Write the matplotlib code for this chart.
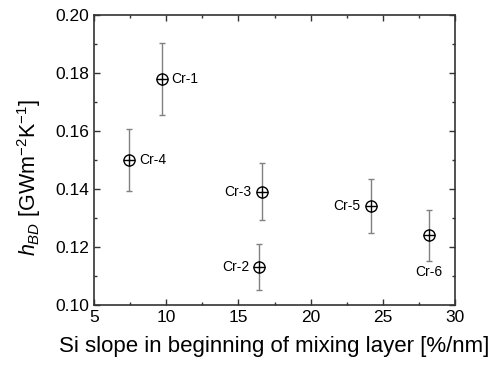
import matplotlib
matplotlib.use("Agg")
import matplotlib.pyplot as plt
from matplotlib.ticker import MultipleLocator

plt.rcParams['font.family'] = ['Liberation Sans', 'DejaVu Sans']
plt.rcParams['mathtext.fontset'] = 'custom'
plt.rcParams['mathtext.rm'] = 'Liberation Sans'
plt.rcParams['mathtext.it'] = 'Liberation Sans:italic'

names = ['Cr-1', 'Cr-2', 'Cr-3', 'Cr-4', 'Cr-5', 'Cr-6']
x = [9.7, 16.45, 16.6, 7.45, 24.15, 28.2]
y = [0.178, 0.113, 0.139, 0.150, 0.134, 0.124]
err = [0.0125, 0.008, 0.0098, 0.0106, 0.0093, 0.0087]
label_pos = ['right', 'left', 'left', 'right', 'left', 'below']

fig = plt.figure(figsize=(4.99, 3.66), dpi=100)
ax = fig.add_axes([94/499, 1-305/366, (455-94)/499, (305-15)/366])

ax.errorbar(x, y, yerr=err, fmt='none', ecolor='#808080', elinewidth=1.0,
            capsize=2.5, capthick=1.0, zorder=2)
ax.plot(x, y, linestyle='none', marker='o', markersize=8, markerfacecolor='white',
        markeredgecolor='black', markeredgewidth=1.0, zorder=3)
ax.plot(x, y, linestyle='none', marker='+', markersize=8, markeredgecolor='black',
        markeredgewidth=1.0, zorder=4)

for n, xi, yi, p in zip(names, x, y, label_pos):
    if p == 'right':
        ax.annotate(n, (xi, yi), xytext=(7, 0), textcoords='offset points',
                    ha='left', va='center', fontsize=10)
    elif p == 'left':
        ax.annotate(n, (xi, yi), xytext=(-7, 0), textcoords='offset points',
                    ha='right', va='center', fontsize=10)
    else:
        ax.annotate(n, (xi, yi), xytext=(0, -26), textcoords='offset points',
                    ha='center', va='center', fontsize=10)

ax.set_xlim(5, 30)
ax.set_ylim(0.10, 0.20)
ax.xaxis.set_major_locator(MultipleLocator(5))
ax.xaxis.set_minor_locator(MultipleLocator(2.5))
ax.yaxis.set_major_locator(MultipleLocator(0.02))
ax.yaxis.set_minor_locator(MultipleLocator(0.01))
ax.yaxis.set_major_formatter(plt.FormatStrFormatter('%.2f'))
ax.tick_params(which='both', direction='in', top=True, right=True, labelsize=12.5)
ax.tick_params(which='major', length=4, width=1, color='#333333')
ax.tick_params(which='minor', length=2.5, width=1, color='#333333')
for s in ax.spines.values():
    s.set_linewidth(1.2)
    s.set_color('#333333')

ax.set_xlabel('Si slope in beginning of mixing layer [%/nm]', fontsize=16, labelpad=8)
ax.set_ylabel(r'$h_{BD}$ [GWm$^{-2}$K$^{-1}$]', fontsize=15.5)
ax.yaxis.set_label_coords(-0.14, 0.44)

fig.savefig('out.png', dpi=100)
